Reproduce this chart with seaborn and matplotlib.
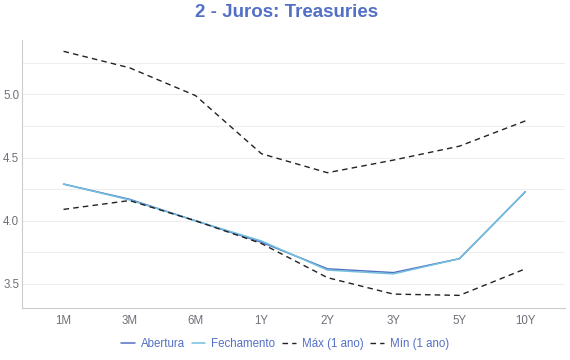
import numpy as np
import pandas as pd
import seaborn as sns
import matplotlib
matplotlib.use("Agg")
import matplotlib.pyplot as plt
from matplotlib.ticker import MultipleLocator

tenors = ["1M", "3M", "6M", "1Y", "2Y", "3Y", "5Y", "10Y"]
abertura = [4.29, 4.17, 4.00, 3.83, 3.62, 3.59, 3.70, 4.23]
fechamento = [4.29, 4.165, 4.00, 3.84, 3.61, 3.58, 3.70, 4.23]
maximo = [5.34, 5.21, 4.99, 4.53, 4.38, 4.48, 4.59, 4.79]
minimo = [4.09, 4.16, 4.00, 3.82, 3.55, 3.42, 3.41, 3.62]

sns.set_style("white")
plt.rcParams['font.family'] = ['Liberation Sans', 'DejaVu Sans']

fig = plt.figure(figsize=(5.7, 3.6), dpi=100)
ax = fig.add_axes([0.0386, 0.1444, 0.9526, 0.7446])

blue = "#5470c6"
cyan = "#73c0de"

sns.lineplot(x=tenors, y=abertura, ax=ax, color=blue, lw=1.1, label="Abertura", sort=False)
sns.lineplot(x=tenors, y=fechamento, ax=ax, color=cyan, lw=1.1, label="Fechamento", sort=False)
sns.lineplot(x=tenors, y=maximo, ax=ax, color="#222222", lw=1.0, label="Máx (1 ano)", sort=False)
sns.lineplot(x=tenors, y=minimo, ax=ax, color="#222222", lw=1.0, label="Mín (1 ano)", sort=False)
for ln in ax.lines[2:4]:
    ln.set_dashes([4, 3])

ax.set_xlim(-0.63, 7.6)
ax.set_ylim(3.31, 5.43)
ax.yaxis.set_major_locator(MultipleLocator(0.5))
ax.yaxis.set_minor_locator(MultipleLocator(0.25))
ax.grid(True, which="both", axis="y", color="#eeeeee", lw=0.8)
ax.set_axisbelow(True)

for s in ["top", "right"]:
    ax.spines[s].set_visible(False)
for s in ["left", "bottom"]:
    ax.spines[s].set_color("#cccccc")
    ax.spines[s].set_linewidth(0.8)

ax.tick_params(axis="both", length=0, labelsize=8.3, colors="#6e7079")
ax.tick_params(axis="y", pad=2)
ax.tick_params(axis="x", pad=5)
ax.yaxis.set_major_formatter(matplotlib.ticker.FormatStrFormatter("%.1f"))

fig.suptitle("2 - Juros: Treasuries", x=0.502, y=0.99, fontsize=13.5,
             fontweight="bold", color=blue)

ax.get_legend().remove()
handles, labels = ax.get_legend_handles_labels()
leg = fig.legend(handles, labels, loc="center", bbox_to_anchor=(0.5, 0.044), ncol=4,
                 frameon=False, fontsize=8.3, handlelength=1.2, handletextpad=0.5,
                 columnspacing=0.6)
for t in leg.get_texts():
    t.set_color(blue)

fig.savefig("out.png", dpi=100)
